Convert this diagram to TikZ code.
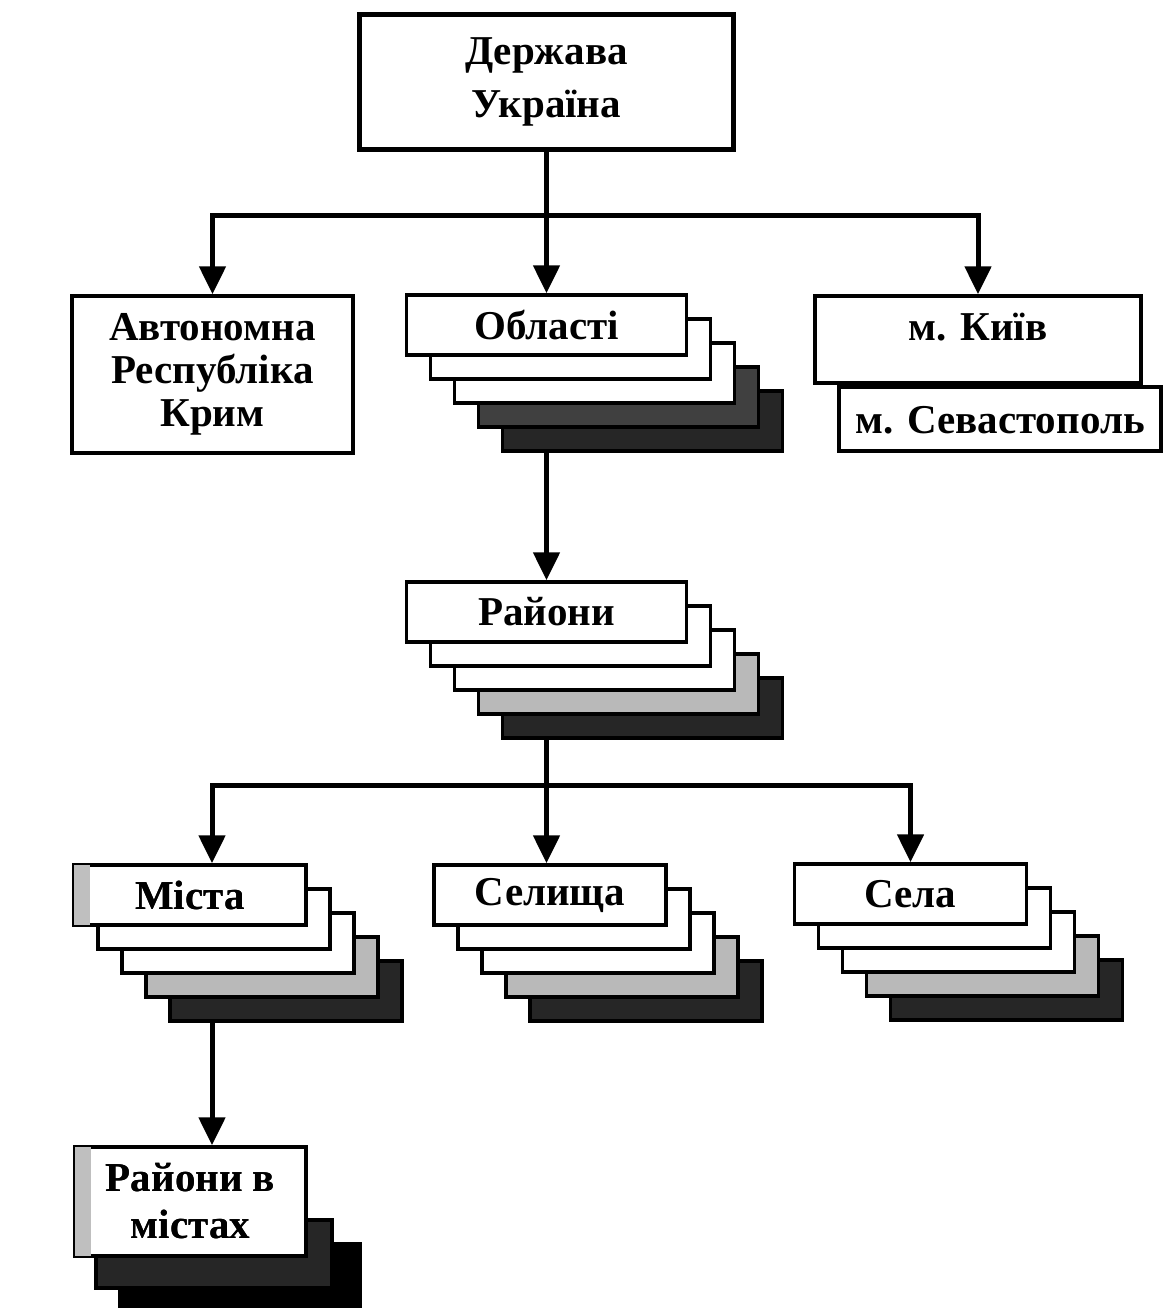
\documentclass[tikz,border=0pt]{standalone}
\usepackage{fontspec}
\setmainfont{Liberation Serif}
\usetikzlibrary{arrows.meta}
\tikzset{
  box/.style={draw, line width=3.5pt, fill=white, inner sep=0pt, align=center,
    font=\bfseries\fontsize{41}{43}\selectfont},
  conn/.style={line width=5pt},
  arr/.style={line width=5pt, -{Triangle[width=26pt,length=28pt]}},
  strip/.style={fill=gray!50},
}
\newcommand\boxstack[7]{%
  \foreach \i/\col in {4/black!85,3/#7,2/white,1/white}{
    \node[box, fill=\col, minimum width=#4pt, minimum height=#5pt] (#1-\i) at ({#2+24*\i},{#3+24*\i}) {};
  }
  \node[box, minimum width=#4pt, minimum height=#5pt] (#1) at (#2,#3) {#6};
}
\begin{document}
\begin{tikzpicture}[x=1pt,y=-1pt]
\useasboundingbox[fill=white] (0,0) rectangle (1166,1308);

% top
\node[box, line width=5pt, minimum width=374pt, minimum height=135pt,
  font=\bfseries\fontsize{41}{53}\selectfont] (top) at (546.5,82) {Держава\\Україна};

% second level
\node[box, minimum width=281pt, minimum height=157pt] (arc) at (212.5,374.5)
  {Автономна\\Республіка\\Крим};
\boxstack{obl}{546.5}{325}{280}{60}{Області}{black!75}
\node[box, minimum width=322pt, minimum height=64pt, text height=28pt, text depth=0pt] (sev) at (1000,419) {м. Севастополь};
\node[box, minimum width=326pt, minimum height=87pt, text height=28pt, text depth=27pt] (kyiv) at (978,339.5) {м. Київ};

% third level
\boxstack{rai}{546.5}{612}{280}{60}{Райони}{gray!55}

% fourth level
\boxstack{mista}{190}{895}{232}{60}{Міста}{gray!55}
\fill[strip] ([xshift=2pt,yshift=-2pt]mista.north west) rectangle ([xshift=18pt,yshift=2pt]mista.south west);
\node[box, fill=none, draw=none, minimum width=232pt, minimum height=60pt] at (mista) {Міста};
\boxstack{sel}{550}{895}{232}{60}{Селища}{gray!55}
\boxstack{sela}{910.5}{894}{232}{60}{Села}{gray!55}

% fifth level
\node[box, fill=black, minimum width=240pt, minimum height=75pt] (rvm-2) at (240,1281.5) {};
\node[box, fill=black!85, minimum width=236pt, minimum height=68pt] (rvm-1) at (214,1254) {};
\node[box, minimum width=231pt, minimum height=109pt,
  font=\bfseries\fontsize{41}{47}\selectfont] (rvm) at (190.5,1201.5) {Райони в\\містах};
\fill[strip] ([xshift=2pt,yshift=-2pt]rvm.north west) rectangle ([xshift=18pt,yshift=2pt]rvm.south west);
\node[box, fill=none, draw=none, minimum width=231pt, minimum height=109pt,
  font=\bfseries\fontsize{41}{47}\selectfont] at (rvm) {Райони в\\містах};

% connectors
\coordinate (j1) at (546.5,215);
\draw[conn] (top.south) -- (j1);
\draw[arr] (j1) -- (obl.north);
\draw[arr] (j1) -| (arc.north);
\draw[arr] (j1) -| (kyiv.north);

\draw[arr] (obl-4.south -| obl.center) -- (rai.north);

\coordinate (j2) at (546.5,785);
\draw[conn] (rai-4.south -| rai.center) -- (j2);
\draw[arr] (j2) -| ([xshift=22pt]mista.north);
\draw[arr] (j2) -- (j2 |- sel.north);
\draw[arr] (j2) -| (sela.north);

\path ([xshift=22pt]mista.center) coordinate (mx);
\draw[arr] (mx |- mista-4.south) -- (mx |- rvm.north);
\end{tikzpicture}
\end{document}
